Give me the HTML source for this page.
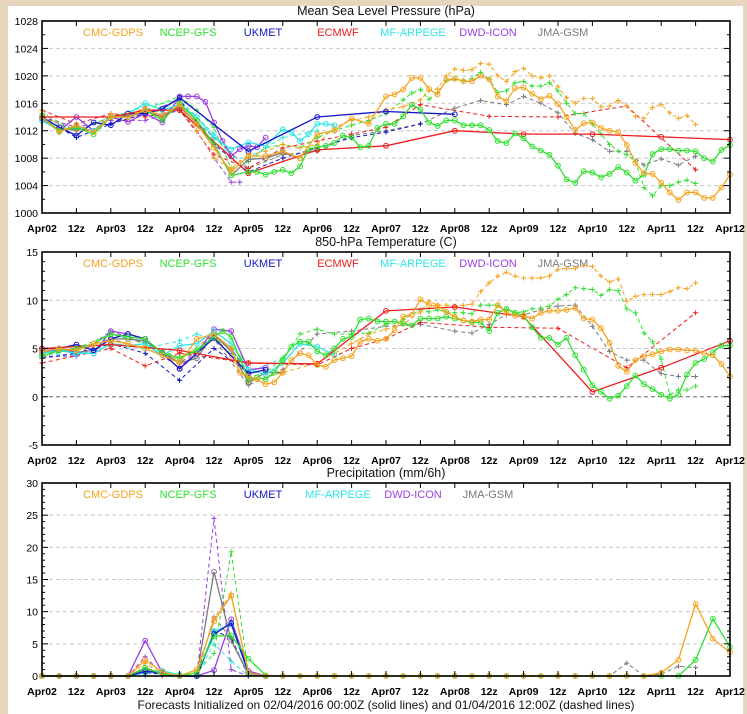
<!DOCTYPE html>
<html><head><meta charset="utf-8"><style>
html,body{margin:0;padding:0;background:#e6d6bd;}
svg{display:block;font-family:"Liberation Sans",sans-serif;}
</style></head><body>
<svg id="fig" width="747" height="714" viewBox="0 0 747 714" xmlns="http://www.w3.org/2000/svg">
<rect x="0" y="0" width="747" height="714" fill="#e6d6bd"/>
<rect x="8" y="6" width="735" height="708" fill="#ffffff"/>
</svg>
<script>
// ---------- shared categories ----------
const xTickLabels = ["Apr02","12z","Apr03","12z","Apr04","12z","Apr05","12z","Apr06","12z","Apr07","12z","Apr08","12z","Apr09","12z","Apr10","12z","Apr11","12z","Apr12"];
const H3_120 = [120,123,126,129,132,135,138,141,144,147,150,153,156,159,162,165,168,171,174,177,180,183,186,189,192,195,198,201,204,207,210,213,216,219,222,225,228,231,234,237,240];
const P6 = [0,6,12,18,24,30,36,42,48,54,60,66,72,78,84,90,96,102,108,114,120,126,132,138,144,150,156,162,168,174,180,186,192,198,204,210,216,222,228,234,240];
const P6_78 = [0,6,12,18,24,30,36,42,48,54,60,66,72,78];

// ---------- Panel 1: MSLP ----------
const p1Ticks = [1000,1004,1008,1012,1016,1020,1024,1028];
const p1CmcH = [0,6,12,18,24,30,36,42,48,54,60,66,72,78,84,90,96,102,108,114].concat(H3_120);
const p1CmcV = [1014,1011.8,1012.8,1011.8,1014,1014,1015,1014.2,1015.8,1013,1009.5,1006,1008.3,1008.3,1009,1008,1011.5,1012,1013.8,1013,
 1017.0,1017.3,1018.0,1019.7,1019.7,1018.1,1017.3,1019.4,1019.6,1019.2,1019.2,1020.0,1019.5,1017.0,1016.3,1018.2,1018.3,1017.4,1016.6,1017.1,1015.9,1014.0,1012.1,1013.1,1013.2,1012.4,1012.0,1011.8,1009.9,1007.3,1005.8,1005.7,1004.4,1003.0,1001.9,1003.0,1003.0,1002.2,1002.2,1003.7,1005.6];
const p1GfsH = [0,6,12,18,24,30,36,42,48,54,60,66,72,75,78,81,84,87,90,93,96,99,102,105,108,111,114,117].concat(H3_120);
const p1GfsV = [1014,1012,1012.5,1011.5,1014,1014,1015,1013.5,1016,1013.5,1010,1005.5,1006,1006,1005.6,1006,1006.3,1005.8,1006.8,1009.3,1009.6,1009.8,1010.2,1011.3,1011,1009.6,1009.8,1012.4,
 1013.0,1013.0,1014.1,1015.8,1015.1,1013.2,1012.7,1013.5,1013.5,1012.8,1012.8,1012.8,1012.1,1010.5,1010.2,1011.6,1010.9,1009.7,1009.1,1008.5,1006.9,1004.9,1004.4,1006.1,1005.9,1005.2,1005.7,1006.7,1005.9,1004.7,1005.6,1008.6,1009.3,1009.3,1009.1,1009.1,1009.0,1008.0,1007.5,1009.2,1009.9];
const p1UkH = [0,6,12,18,24,30,36,42,48,72,96,120,144];
const p1UkV = [1014,1012.5,1011.3,1013.2,1012.8,1014.5,1014.5,1015.2,1016.8,1009,1014,1014.8,1014.4];
const p1EcH = [0,24,36,48,72,96,120,144,168,192,216,240];
const p1EcV = [1014,1014,1015,1015,1005.8,1009.2,1009.8,1012,1011.5,1011.5,1011.1,1010.7];
const p1MfH = [0,6,12,18,24,30,36,42,48,54,60,66,72,78,84,87,90,93,96,99,102];
const p1MfV = [1013.5,1012,1012.5,1012,1014,1014.5,1016,1015,1015.8,1014,1011,1009.3,1010.3,1009.8,1012.2,1011.8,1010.5,1011.5,1013,1013,1012.8];
const p1DwdH = [0,6,12,18,24,30,36,42,48,51,54,57,60,63,66,69,72,75,78];
const p1DwdV = [1013.8,1012,1014,1012,1014,1013.3,1014.5,1013.2,1017,1017,1017,1016.2,1013.2,1010.5,1008.3,1009.3,1009.8,1009.6,1011];
const p1JmaH = [0,6,12,18,24,30,36,42,48,54,60,66,72,78,84,90];
const p1JmaV = [1014,1012,1012.3,1012,1014,1014,1014.8,1014,1015.5,1013,1010,1005.5,1007.8,1008,1008.8,1008];
const p1CmcDH = [0,6,12,18,24,30,36,42,48,54,60,66,72,78,84,90,96,102,108,114,120,126,132,135,138,141,144,147,150,153,156,159,162,165,168,171,174,177,180,183,186,189,192,195,198,201,204,207,210,213,216,219,222,225,228];
const p1CmcDV = [1015,1012.5,1012,1012,1014.5,1014,1015.5,1014,1015.5,1012,1008,1006.5,1008.5,1009,1010,1009.5,1010,1012.5,1013.5,1014,1015,1015.5,1016.5,1017.8,
 1018.1,1020.0,1021.0,1020.8,1020.9,1021.8,1021.7,1020.0,1019.2,1020.6,1021.1,1020.0,1019.7,1020.0,1018.4,1016.8,1016.0,1016.7,1016.7,1015.5,1015.6,1016.4,1015.6,1014.1,1013.8,1015.4,1015.8,1014.6,1013.8,1014.2,1012.9];
const p1GfsDH = [0,12,24,36,48,54,60,66,72,78,84,90,96,102,108,114,120,126,129,132,135,138,141,144,147,150,153,156,159,162,165,168,171,174,177,180,183,186,189,192,195,198,201,204,207,210,213,216,219,222,225,228];
const p1GfsDV = [1014.5,1012,1014,1015,1017,1015,1012.5,1006.5,1007.5,1009.5,1010,1009.5,1011,1012,1012.8,1013.5,1014.5,
 1016.5,1017.5,1018,1016.6,1017.5,1019.3,1019.5,1019.3,1019.6,1020.5,1019.5,1017.6,1017.8,1019.0,1019.2,1018.5,1018.5,1019.0,1017.8,1016.0,1014.5,1014.5,1013.0,1011.5,1010.0,1009.0,1008.5,1007.5,1003.7,1002.5,1004.0,1004.0,1004.5,1004.8,1004.3];
const p1EcDH = [0,12,24,36,48,60,72,84,96,108,120,132,156,180,204,228];
const p1EcDV = [1015,1013,1014.5,1014,1015,1008.5,1006.5,1009.5,1010.5,1011.5,1012.5,1015.8,1014.1,1014.0,1015.6,1006.3];
const p1JmaDH = [0,12,24,36,48,60,72,84,96,108,120,132,144,153,162,168,174,180,186,192,198,204,210,216,222,228];
const p1JmaDV = [1014,1012,1014,1014.5,1015.5,1011,1006.5,1008.5,1009,1011.3,1012,1013,1015.3,1016.4,1015.8,1017.0,1016.0,1014.6,1011.6,1010.7,1009.0,1009.0,1007.0,1007.9,1007.0,1008.3];
const p1UkDH = [0,12,24,36,48,60,72,84,96,108,120,132];
const p1UkDV = [1014,1011,1013,1014.5,1016.5,1010,1006,1008,1009.5,1011,1011.8,1013];
const p1MfDH = [0,12,24,36,48,60,66,72,84,96];
const p1MfDV = [1013.5,1012,1014,1015.5,1016.5,1011.5,1008,1008,1011,1012];
const p1DwdDH = [0,12,24,36,48,54,60,66,69];
const p1DwdDV = [1014,1012.5,1013.5,1013.5,1015,1012,1008,1004.5,1004.5];

// ---------- Panel 2: 850 hPa temperature ----------
const p2Ticks = [-5,0,5,10,15];
const p2CmcH = [0,6,12,18,24,30,36,42,48,54,60,66,69,72,75,78,81,84,87,90,93,96,99,102,105,108,111,114,117].concat(H3_120);
const p2CmcV = [4.7,5,4.8,5.5,5.8,5.5,5,4.3,3.5,6,6.5,5,2.5,2.1,1.8,1.3,1.5,2.5,3.8,4.5,4.3,3.3,3.1,3.8,4,4.2,5.7,6,5.8,
 6.0,6.9,8.3,8.5,10.1,9.5,9.4,8.8,8.3,7.9,7.8,8.0,8.0,9.5,8.7,8.4,8.4,8.1,8.7,8.9,8.9,9.0,9.2,8.1,8.0,7.1,5.6,3.2,2.6,3.8,4.2,4.4,4.7,4.9,4.9,4.8,4.8,4.5,4.3,3.4,2.1];
const p2GfsH = [0,6,12,18,24,30,36,42,48,54,60,63,66,69,72,75,78,81,84,87,90,93,96,99,102,105,108,111,114,117].concat(H3_120);
const p2GfsV = [4.2,4.8,5,5.5,6.5,6.2,6,4.5,4,4.8,6.2,6.8,6.2,4,1.8,2,1.8,2.5,3.8,5.2,5.7,5.7,4.7,4.3,5.0,6.0,6.2,8.0,8.1,7.8,
 7.8,7.8,7.6,7.4,8.1,8.1,8.1,8.3,8.1,7.9,7.7,7.7,6.8,8.7,9.1,8.7,8.4,7.2,6.1,6.1,5.4,6.1,4.3,2.8,1.2,0.5,-0.2,0.1,1.1,2.2,1.3,0.8,0.2,-0.2,0.2,2.3,3.5,3.9,4.6,5.3,5.3];
const p2UkH = [0,6,12,18,24,30,36,42,48,60,72,78];
const p2UkV = [5,5,5.4,4.8,6,6.5,6,4.5,2.9,6.1,2.4,2.8];
const p2EcH = [0,24,48,72,96,120,144,168,192,216,240];
const p2EcV = [5,5.4,4.8,3.5,3.4,8.9,9.3,8.3,0.5,3.0,5.8];
const p2MfH = [0,6,12,18,24,30,36,42,48,54,60,66,72,78,84,90,96,102];
const p2MfV = [4.5,4.8,4.5,4.5,5.5,5.3,5.5,4.3,5.3,5.5,6.8,5.5,2.8,2.3,3.5,5.5,5.2,4.3];
const p2DwdH = [0,6,12,18,24,30,36,42,48,54,60,66,72,78];
const p2DwdV = [4.8,4.8,4.5,4.5,6.8,6.5,6,4.5,2.9,4.5,7,6.8,2.8,3];
const p2JmaH = [0,6,12,18,24,30,36,42,48,54,60,66,72,78,84];
const p2JmaV = [4.5,5,4.6,4.8,6,6,5.8,4.6,3.5,4,6.5,4.7,1.5,2.5,2.5];
const p2CmcDH = [0,12,24,36,48,60,72,84,96,102,108,114,120,126,132,135,138,141,144,147,150,153,156,159,162,165,168,171,174,177,180,183,186,189,192,195,198,201,204,207,210,213,216,219,222,225,228];
const p2CmcDV = [4.5,4.8,5.5,5.2,3.8,6.5,1.5,2.5,3.5,4.5,5.5,6.5,7.0,7.5,8.8,
 9.9,9.5,9.5,9.4,9.5,9.6,10.9,11.8,12.5,12.9,12.5,12.3,12.3,12.3,12.5,13.2,13.3,13.3,13.6,13.5,12.5,11.9,12.2,9.9,10.4,10.6,10.6,10.6,10.9,11.3,11.2,11.8];
const p2GfsDH = [0,12,24,36,48,60,66,72,78,84,90,96,102,108,114,120,126,132,135,138,141,144,147,150,153,156,159,162,165,168,171,174,177,180,183,186,189,192,195,198,201,204,207,210,213,216,219,222,225,228];
const p2GfsDV = [4.2,5,6.5,5.5,4,6,5,2,2.5,4,6.5,7,6.5,6.5,6.6,7.5,8,
 9.0,8.8,9.0,8.8,8.7,8.7,8.6,9.5,9.5,9.5,9.0,8.7,8.8,9.1,9.2,9.4,10.1,10.6,11.3,11.2,11.1,10.5,11.1,11.0,9.1,8.7,6.6,5.7,3.9,0.2,0.7,0.7,1.1];
const p2EcDH = [0,24,36,48,72,96,108,120,132,156,180,204,228];
const p2EcDV = [3.5,5,3.2,4.5,3.5,3.3,5,6,7.7,7.2,7.1,3.0,8.7];
const p2JmaDH = [0,12,24,36,48,60,72,84,96,108,120,132,144,150,156,162,168,174,180,186,192,198,204,210,216,222,228];
const p2JmaDV = [4.5,4.8,6,5,3.5,6,1.2,2.8,6.5,6.8,7.3,7.5,6.8,6.6,7.5,8.5,8.5,9,9.4,9.5,7.3,4.7,3.8,3.8,2.4,2.1,2.1];
const p2UkDH = [0,12,24,36,48,60,72];
const p2UkDV = [4,4.5,5.5,4.5,1.7,5,2.5];
const p2MfDH = [0,12,24,36,48,54,60,72,84];
const p2MfDV = [4.5,4.3,5.5,5,5.8,6.5,6,2.5,4];
const p2DwdDH = [0,12,24,36,48,60,66,72];
const p2DwdDV = [4.2,4.2,6.8,5.5,3,6.5,5,2.5];

// ---------- Panel 3: precipitation ----------
const p3Ticks = [0,5,10,15,20,25,30];
const p3CmcV = [0,0,0,0,0,0,2.5,0.6,0,1.0,8.5,12.5,0.5,0,0,0,0,0,0,0,0,0,0,0,0,0,0,0,0,0,0,0,0,0,0,0,0.5,2.5,11.2,5.8,3.7];
const p3GfsV = [0,0,0,0,0,0,1.3,0.3,0,0.5,6.2,6.3,2.7,0.1,0,0,0,0,0,0,0,0,0,0,0,0,0,0,0,0,0,0,0,0,0,0,0,0,2.5,8.9,4.5];
const p3UkV = [0,0,0,0,0,0,0.7,0.5,0,0,6.5,8.2,0.5,0];
const p3MfV = [0,0,0,0,0,0,0.5,0.8,0.2,0,7.0,8.0,0.3,0];
const p3DwdV = [0,0,0,0,0,0,5.5,0.5,0,0,0.9,8.8,0.8,0];
const p3JmaV = [0,0,0,0,0,0,1.0,0.3,0,0,16.2,5.5,0.3,0];
const p3CmcDV = [0,0,0,0,0,0,2.0,0.3,0,0.5,9.0,12.8,0.3,0];
const p3GfsDV = [0,0,0,0,0,0,1.0,0.3,0,0.5,3.5,19.3,0.5,0];
const p3UkDV = [0,0,0,0,0,0,0.5,0.3,0,0,7.0,6.0,0,0];
const p3MfDV = [0,0,0,0,0,0,0.5,0.3,0,0,5.0,2.3,0,0];
const p3DwdDV = [0,0,0,0,0,0,3.0,0.3,0,0,24.5,1.0,0,0];
const p3JmaDV = [0,0,0,0,0,0,0,0,0,0,9.2,5.8,0,0,0,0,0,0,0,0,0,0,0,0,0,0,0,0,0,0,0,0,0,0,2.0,0,0.3,1.5,1.3];

const COL = {cmc:"#f5a31e", gfs:"#2fe02f", uk:"#1414c8", ec:"#ee1c1c", mf:"#2ee6e6", dwd:"#9b3fe0", jma:"#7a7a7a"};
const NS = "http://www.w3.org/2000/svg";
const svg = document.getElementById("fig");
const X0 = 42, X1 = 730;
function sx(h){ return X0 + h/240*(X1-X0); }
function mk(tag, attrs, parent){ const e=document.createElementNS(NS,tag); for(const k in attrs) e.setAttribute(k,attrs[k]); (parent||svg).appendChild(e); return e; }

function drawPanel(p){
  const g = mk("g",{});
  
  
  const sy = v => p.bottom - (v-p.min)/(p.max-p.min)*(p.bottom-p.top);
  // grid
  p.ticks.forEach(v=>{
    if(v===p.min||v===p.max) return;
    const ln = mk("line",{x1:X0,x2:X1,y1:sy(v),y2:sy(v),stroke:v===0?"#666":"#c8c8c8","stroke-width":1,"stroke-dasharray":"4,3"},g);
    
    
  });
  // title
  const t = mk("text",{x:386,y:p.top-6,"text-anchor":"middle","font-size":"12.5px",fill:"#111"},g);
  t.textContent = p.title;
  
  
  // legend
  p.legend.forEach((L,i)=>{
    const lt = mk("text",{x:113+i*75,y:p.top+15,"text-anchor":"middle","font-size":"11px",fill:COL[L[1]]},g);
    lt.textContent = L[0];
    
    
  });
  // series
  const sg = mk("g",{},g);
  
  
  p.series.forEach(s=>{
    const pts = s.h.map((h,i)=>[sx(h), sy(s.v[i])]);
    const pl = mk("polyline",{points:pts.map(q=>q[0].toFixed(1)+","+q[1].toFixed(1)).join(" "),fill:"none",stroke:COL[s.c],"stroke-width":s.d?1:1.3,"stroke-dasharray":s.d?"4,3":"none"},sg);
    
    
    pts.forEach(q=>{
      if(s.d){
        const m = mk("path",{d:`M${q[0]-2.5},${q[1]}h5M${q[0]},${q[1]-2.5}v5`,stroke:COL[s.c],"stroke-width":1,fill:"none"},sg);
        
        
      } else {
        const m = mk("circle",{cx:q[0],cy:q[1],r:2.4,stroke:COL[s.c],"stroke-width":1,fill:"none"},sg);
        
        
      }
    });
  });
  // frame
  const fr = mk("rect",{x:X0,y:p.top,width:X1-X0,height:p.bottom-p.top,fill:"none",stroke:"#000","stroke-width":1.6},g);
  
  
  // y ticks & labels
  for(let v=p.min; v<=p.max+1e-9; v+=p.minor){
    const major = p.ticks.indexOf(v)>=0;
    const L = major?6:3;
    mk("line",{x1:X0,x2:X0+L,y1:sy(v),y2:sy(v),stroke:"#000","stroke-width":1},g);
    mk("line",{x1:X1,x2:X1-L,y1:sy(v),y2:sy(v),stroke:"#000","stroke-width":1},g);
  }
  p.ticks.forEach(v=>{
    const yl = mk("text",{x:X0-4,y:sy(v)+4,"text-anchor":"end","font-size":"10.5px",fill:"#000"},g);
    yl.textContent = String(v);
    
    
  });
  // x ticks & labels
  xTickLabels.forEach((lab,i)=>{
    const x = sx(i*12);
    mk("line",{x1:x,x2:x,y1:p.bottom,y2:p.bottom-5,stroke:"#000","stroke-width":1},g);
    mk("line",{x1:x,x2:x,y1:p.top,y2:p.top+5,stroke:"#000","stroke-width":1},g);
    const xl = mk("text",{x:x,y:p.bottom+19,"text-anchor":"middle","font-size":"10.5px","font-weight":"bold",fill:"#000"},g);
    xl.textContent = lab;
    
    
  });
}

const leg7 = [["CMC-GDPS","cmc"],["NCEP-GFS","gfs"],["UKMET","uk"],["ECMWF","ec"],["MF-ARPEGE","mf"],["DWD-ICON","dwd"],["JMA-GSM","jma"]];
const leg6 = [["CMC-GDPS","cmc"],["NCEP-GFS","gfs"],["UKMET","uk"],["MF-ARPEGE","mf"],["DWD-ICON","dwd"],["JMA-GSM","jma"]];

drawPanel({id:"mslp",title:"Mean Sea Level Pressure (hPa)",top:21,bottom:213,min:1000,max:1028,minor:2,ticks:p1Ticks,legend:leg7,series:[
 {n:"jma",c:"jma",d:1,h:p1JmaDH,v:p1JmaDV},{n:"dwd",c:"dwd",d:1,h:p1DwdDH,v:p1DwdDV},{n:"mf",c:"mf",d:1,h:p1MfDH,v:p1MfDV},
 {n:"ukmet",c:"uk",d:1,h:p1UkDH,v:p1UkDV},{n:"ecmwf",c:"ec",d:1,h:p1EcDH,v:p1EcDV},{n:"gfs",c:"gfs",d:1,h:p1GfsDH,v:p1GfsDV},{n:"cmc",c:"cmc",d:1,h:p1CmcDH,v:p1CmcDV},
 {n:"jma",c:"jma",d:0,h:p1JmaH,v:p1JmaV},{n:"dwd",c:"dwd",d:0,h:p1DwdH,v:p1DwdV},{n:"mf",c:"mf",d:0,h:p1MfH,v:p1MfV},
 {n:"ukmet",c:"uk",d:0,h:p1UkH,v:p1UkV},{n:"ecmwf",c:"ec",d:0,h:p1EcH,v:p1EcV},{n:"gfs",c:"gfs",d:0,h:p1GfsH,v:p1GfsV},{n:"cmc",c:"cmc",d:0,h:p1CmcH,v:p1CmcV}]});

drawPanel({id:"temp850",title:"850-hPa Temperature (C)",top:252,bottom:445,min:-5,max:15,minor:1,ticks:p2Ticks,legend:leg7,series:[
 {n:"jma",c:"jma",d:1,h:p2JmaDH,v:p2JmaDV},{n:"dwd",c:"dwd",d:1,h:p2DwdDH,v:p2DwdDV},{n:"mf",c:"mf",d:1,h:p2MfDH,v:p2MfDV},
 {n:"ukmet",c:"uk",d:1,h:p2UkDH,v:p2UkDV},{n:"ecmwf",c:"ec",d:1,h:p2EcDH,v:p2EcDV},{n:"gfs",c:"gfs",d:1,h:p2GfsDH,v:p2GfsDV},{n:"cmc",c:"cmc",d:1,h:p2CmcDH,v:p2CmcDV},
 {n:"jma",c:"jma",d:0,h:p2JmaH,v:p2JmaV},{n:"dwd",c:"dwd",d:0,h:p2DwdH,v:p2DwdV},{n:"mf",c:"mf",d:0,h:p2MfH,v:p2MfV},
 {n:"ukmet",c:"uk",d:0,h:p2UkH,v:p2UkV},{n:"ecmwf",c:"ec",d:0,h:p2EcH,v:p2EcV},{n:"gfs",c:"gfs",d:0,h:p2GfsH,v:p2GfsV},{n:"cmc",c:"cmc",d:0,h:p2CmcH,v:p2CmcV}]});

drawPanel({id:"precip",title:"Precipitation (mm/6h)",top:483,bottom:676,min:0,max:30,minor:1,ticks:p3Ticks,legend:leg6,series:[
 {n:"jma",c:"jma",d:1,h:P6.slice(0,p3JmaDV.length),v:p3JmaDV},{n:"dwd",c:"dwd",d:1,h:P6_78,v:p3DwdDV},{n:"mf",c:"mf",d:1,h:P6_78,v:p3MfDV},
 {n:"ukmet",c:"uk",d:1,h:P6_78,v:p3UkDV},{n:"gfs",c:"gfs",d:1,h:P6_78,v:p3GfsDV},{n:"cmc",c:"cmc",d:1,h:P6_78,v:p3CmcDV},
 {n:"jma",c:"jma",d:0,h:P6_78,v:p3JmaV},{n:"dwd",c:"dwd",d:0,h:P6_78,v:p3DwdV},{n:"mf",c:"mf",d:0,h:P6_78,v:p3MfV},
 {n:"ukmet",c:"uk",d:0,h:P6_78,v:p3UkV},{n:"gfs",c:"gfs",d:0,h:P6,v:p3GfsV},{n:"cmc",c:"cmc",d:0,h:P6,v:p3CmcV}]});

const cap = mk("text",{x:386,y:709,"text-anchor":"middle","font-size":"12px",fill:"#111"});
cap.textContent = "Forecasts Initialized on 02/04/2016 00:00Z (solid lines) and 01/04/2016 12:00Z (dashed lines)";


</script>
</body></html>
